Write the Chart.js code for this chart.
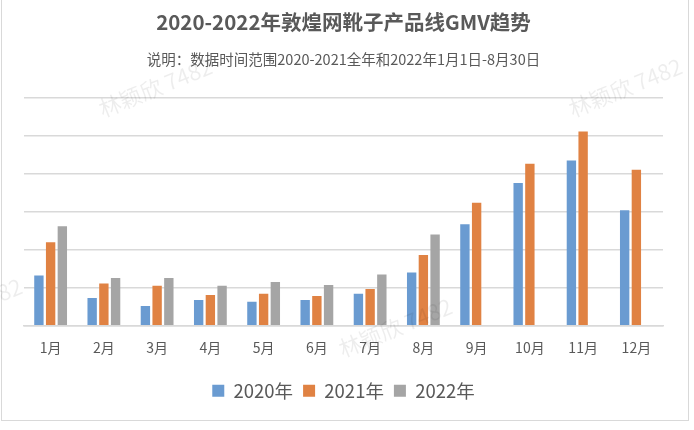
<!DOCTYPE html>
<html>
<head>
<meta charset="utf-8">
<script src="https://cdn.jsdelivr.net/npm/chart.js@4"></script>
<style>
    html, body { margin: 0; padding: 0; background: #fff; }
    #wrap { position: relative; width: 694px; height: 430px; }
    #frame { position: absolute; left: 1px; top: -2px; width: 688px; height: 423px; border: 1px solid #d9d9d9; box-sizing: border-box; pointer-events: none; }
    .wm { position: absolute; font-family: "Noto Sans CJK SC", sans-serif; font-size: 22px; color: rgba(0,0,0,0.07); transform: rotate(-22deg); white-space: nowrap; pointer-events: none; }
</style>
</head>
<body>
<div id="wrap">
    <canvas id="gmvChart" width="694" height="430"></canvas>
    <div id="frame"></div>
    <div class="wm" style="left:95px;top:70px;">林颖欣 7482</div>
    <div class="wm" style="left:565px;top:70px;">林颖欣 7482</div>
    <div class="wm" style="left:-95px;top:290px;">林颖欣 7482</div>
    <div class="wm" style="left:335px;top:310px;">林颖欣 7482</div>
</div>
<script>
const months = ['1月', '2月', '3月', '4月', '5月', '6月', '7月', '8月', '9月', '10月', '11月', '12月'];
const gmv2020 = [1.32, 0.73, 0.52, 0.68, 0.63, 0.68, 0.84, 1.40, 2.67, 3.76, 4.35, 3.04];
const gmv2021 = [2.20, 1.11, 1.05, 0.81, 0.84, 0.78, 0.97, 1.86, 3.24, 4.27, 5.12, 4.11];
const gmv2022 = [2.62, 1.26, 1.26, 1.05, 1.15, 1.07, 1.35, 2.40, null, null, null, null];

const fontFamily = '"Noto Sans CJK SC", "Noto Sans", sans-serif';
const textColor = '#595959';

const ctx = document.getElementById('gmvChart').getContext('2d');
new Chart(ctx, {
    type: 'bar',
    data: {
        labels: months,
        datasets: [
            { label: '2020年', data: gmv2020, backgroundColor: '#6a9bd1' },
            { label: '2021年', data: gmv2021, backgroundColor: '#e08243' },
            { label: '2022年', data: gmv2022, backgroundColor: '#a5a5a5' }
        ]
    },
    options: {
        responsive: false,
        animation: false,
        layout: {
            padding: { left: 24, right: 31, top: 2, bottom: 20 }
        },
        datasets: {
            bar: {
                barPercentage: 0.8,
                categoryPercentage: 0.66
            }
        },
        scales: {
            x: {
                grid: { display: false },
                border: { display: true, color: '#d9d9d9', width: 1.5 },
                ticks: {
                    color: textColor,
                    font: { family: fontFamily, size: 14 },
                    padding: 6
                },
                afterFit: (scale) => {
                    scale.height += 9;
                }
            },
            y: {
                min: 0,
                max: 6,
                ticks: { display: false, stepSize: 1 },
                border: { display: false },
                grid: { color: '#d9d9d9', lineWidth: 1.5, drawTicks: false }
            }
        },
        plugins: {
            title: {
                display: true,
                text: '2020-2022年敦煌网靴子产品线GMV趋势',
                color: textColor,
                font: { family: fontFamily, size: 20.5, weight: 'bold' },
                padding: { top: 8, bottom: 16 }
            },
            subtitle: {
                display: true,
                text: '说明：数据时间范围2020-2021全年和2022年1月1日-8月30日',
                color: textColor,
                font: { family: fontFamily, size: 14.5 },
                padding: { top: 0, bottom: 30 }
            },
            legend: {
                position: 'bottom',
                labels: {
                    color: textColor,
                    boxWidth: 12,
                    boxHeight: 12,
                    padding: 10,
                    font: { family: fontFamily, size: 18.5 }
                }
            },
            tooltip: { enabled: false }
        }
    }
});
</script>
</body>
</html>
